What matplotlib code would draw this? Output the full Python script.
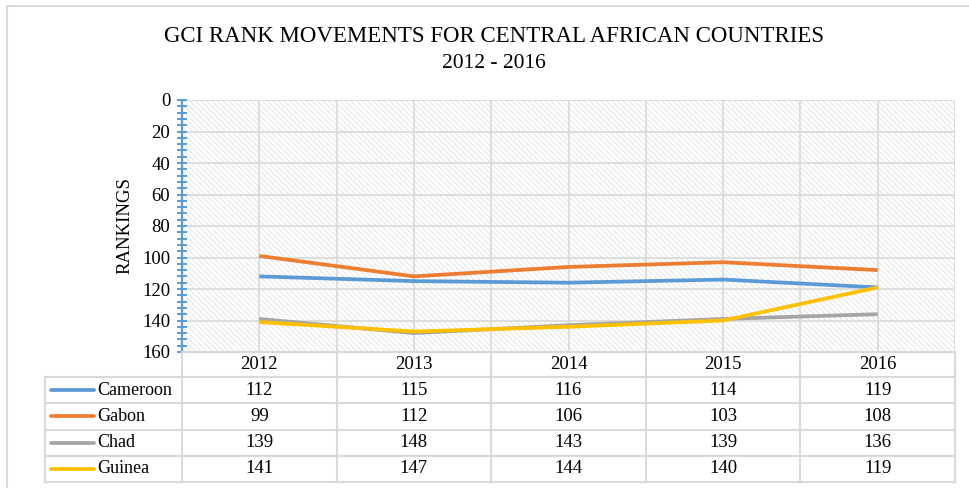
import matplotlib
matplotlib.use("Agg")
import matplotlib.pyplot as plt
from matplotlib.ticker import MultipleLocator
from matplotlib.patches import Rectangle

plt.rcParams['font.family'] = ['Liberation Serif', 'DejaVu Serif']
plt.rcParams['hatch.linewidth'] = 0.5
plt.rcParams['hatch.color'] = '#dadada'

# GCI rankings, 2012-2016
years = ['2012', '2013', '2014', '2015', '2016']
countries = ['Cameroon', 'Gabon', 'Chad', 'Guinea']
cameroon = [112, 115, 116, 114, 119]
gabon = [99, 112, 106, 103, 108]
chad = [139, 148, 143, 139, 136]
guinea = [141, 147, 144, 140, 119]
series = [cameroon, gabon, chad, guinea]
colors = ['#5B9BD5', '#ED7D31', '#A5A5A5', '#FFC000']

W, H = 970, 488
fig = plt.figure(figsize=(W / 100, H / 100), dpi=100)

def px_box(x0, y0, x1, y1):
    return [x0 / W, 1 - y1 / H, (x1 - x0) / W, (y1 - y0) / H]

grid_c = '#d9d9d9'

# outer chart frame
fig.patches.append(Rectangle((7 / W, -0.1), 1.2, 1 - 6 / H + 0.1, transform=fig.transFigure,
                             fill=False, edgecolor=grid_c, linewidth=1.5))

fig.text(494 / W, 1 - 37 / H, 'GCI RANK MOVEMENTS FOR CENTRAL AFRICAN COUNTRIES',
         ha='center', va='center', fontsize=16.5)
fig.text(494 / W, 1 - 63 / H, '2012 - 2016', ha='center', va='center', fontsize=15.5)

# main line chart
ax = fig.add_axes(px_box(182, 100, 955, 352))
x = list(range(len(years)))
ax.set_xlim(-0.5, len(years) - 0.5)
ax.set_ylim(160, 0)
ax.patch.set_facecolor('white')
ax.patch.set_hatch('\\\\\\\\\\\\')
ax.patch.set_edgecolor('#dadada')
ax.patch.set_linewidth(0)

for v in range(0, 161, 20):
    ax.axhline(v, color=grid_c, lw=1.2, zorder=1)
for k in range(len(years)):
    ax.axvline(k, color=grid_c, lw=1.2, zorder=1)
    ax.axvline(k + 0.5, color=grid_c, lw=1.2, zorder=1)

for name, vals, c in zip(countries, series, colors):
    ax.plot(x, vals, color=c, lw=2.7, solid_capstyle='butt', zorder=3, label=name)

for s in ['top', 'right', 'bottom']:
    ax.spines[s].set_visible(False)
ax.spines['left'].set_color('#5B9BD5')
ax.spines['left'].set_linewidth(1.6)
ax.set_xticks([])
ax.yaxis.set_major_locator(MultipleLocator(20))
ax.yaxis.set_minor_locator(MultipleLocator(4))
ax.tick_params(axis='y', which='both', direction='inout', color='#5B9BD5',
               width=1.4, length=7, labelsize=13.5, pad=5)
ax.set_ylabel('RANKINGS', fontsize=13.5, labelpad=6)

# data table under the chart
tab = fig.add_axes(px_box(45, 352, 955, 482))
legend_w = (182 - 45) / ((955 - 182) / len(years))
tab.set_xlim(-0.5 - legend_w, len(years) - 0.5)
rows = [0, 25, 51.3, 77.6, 103.9, 130]
tab.set_ylim(130, 0)
tab.axis('off')

x_left = -0.5 - legend_w
for k in range(len(years) + 1):
    tab.plot([k - 0.5, k - 0.5], [0, 130], color=grid_c, lw=1.5, clip_on=False)
tab.plot([x_left, x_left], [25, 130], color=grid_c, lw=1.5, clip_on=False)
tab.plot([-0.5, len(years) - 0.5], [0, 0], color=grid_c, lw=1.5, clip_on=False)
for r in rows[1:]:
    tab.plot([x_left, len(years) - 0.5], [r, r], color=grid_c, lw=1.5, clip_on=False)

for k, yr in enumerate(years):
    tab.text(k, (rows[0] + rows[1]) / 2, yr, ha='center', va='center', fontsize=13.5)

for i, (name, vals, c) in enumerate(zip(countries, series, colors)):
    yc = (rows[i + 1] + rows[i + 2]) / 2
    tab.plot([x_left + 0.04, x_left + 0.32], [yc, yc], color=c, lw=2.7, solid_capstyle='round')
    tab.text(x_left + 0.34, yc, name, ha='left', va='center', fontsize=13)
    for k, v in enumerate(vals):
        tab.text(k, yc, str(v), ha='center', va='center', fontsize=13.5)

fig.savefig('out.png', dpi=100)
